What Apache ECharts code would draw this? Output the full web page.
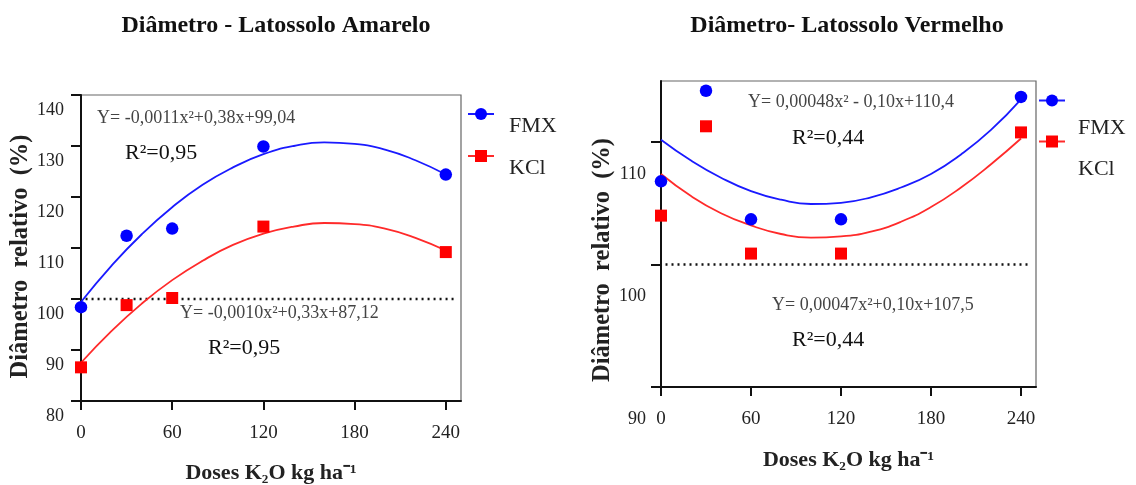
<!DOCTYPE html>
<html>
<head>
<meta charset="utf-8">
<script src="https://cdn.jsdelivr.net/npm/echarts@6/dist/echarts.min.js"></script>
<style>
html,body{margin:0;padding:0;background:#fff;}
#c{width:1136px;height:485px;}
</style>
</head>
<body>
<div id="c"></div>
<script>
// ---------- data ----------
const doses = [0, 30, 60, 120, 240];
const fmxAmarelo = [98.4, 112.4, 113.8, 129.9, 124.4];
const kclAmarelo = [86.6, 98.8, 100.2, 114.2, 109.2];
const fitX = [0, 20, 40, 60, 80, 100, 120, 140, 160, 180, 200, 220, 240];
const fmxFitAmarelo = [99.4, 106.5, 112.7, 118.0, 122.4, 125.8, 128.4, 130.0, 130.7, 130.4, 129.3, 127.2, 124.4];
const kclFitAmarelo = [87.5, 93.7, 99.1, 103.7, 107.5, 110.6, 112.8, 114.2, 114.9, 114.7, 113.8, 112.0, 109.5];
const fmxVermelho = [106.8, 114.2, 103.7, 103.7, 113.7];
const kclVermelho = [104.0, 111.3, 100.9, 100.9, 110.8];
const fmxFitVermelho = [110.2, 108.5, 107.1, 106.0, 105.3, 104.95, 105.05, 105.5, 106.3, 107.4, 109.0, 111.0, 113.5];
const kclFitVermelho = [107.4, 105.6, 104.2, 103.2, 102.5, 102.2, 102.3, 102.7, 103.5, 104.7, 106.3, 108.2, 110.3];
const refX = [3, 247];
const refY = [100, 100];

const xTicks = [0, 60, 120, 180, 240];
const yTicksAmarelo = [80, 90, 100, 110, 120, 130, 140];
const yTicksVermelho = [90, 100, 110];

const titles = ['Diâmetro - Latossolo Amarelo', 'Diâmetro- Latossolo Vermelho'];
const xName = 'Doses K₂O kg ha⁻¹';
const yName = 'Diâmetro  relativo  (%)';
const seriesNames = ['FMX', 'KCl'];
const eqAmarelo = ['Y= -0,0011x²+0,38x+99,04', 'R²=0,95', 'Y= -0,0010x²+0,33x+87,12', 'R²=0,95'];
const eqVermelho = ['Y= 0,00048x² - 0,10x+110,4', 'R²=0,44', 'Y= 0,00047x²+0,10x+107,5', 'R²=0,44'];

// ---------- helpers ----------
const FONT = '"Liberation Serif", "Times New Roman", serif';
const BLUE = '#0000ff', RED = '#ff0000';
const zip = (xs, ys) => xs.map((x, i) => [x, ys[i]]);

function xAxisFor(gi, labelMargin, nameGap) {
  return {
    type: 'value', gridIndex: gi, min: 0, max: 250, interval: 60,
    axisLine: { show: true, onZero: false, lineStyle: { color: '#111', width: 2 } },
    axisTick: { show: true, length: 9, customValues: xTicks, lineStyle: { color: '#111', width: 2 } },
    axisLabel: { customValues: xTicks, margin: labelMargin, fontSize: 19, color: '#222', fontFamily: FONT },
    splitLine: { show: false },
    name: xName, nameLocation: 'middle', nameGap: nameGap,
    nameTextStyle: { fontFamily: FONT, fontWeight: 'bold', fontSize: 22, color: '#222' }
  };
}
function yAxisFor(gi, min, max, ticks, lh, margin, nameGap, shift) {
  return {
    type: 'value', gridIndex: gi, min: min, max: max, interval: 10,
    axisLine: { show: true, onZero: false, lineStyle: { color: '#111', width: 2 } },
    axisTick: { show: true, length: 10, customValues: ticks, lineStyle: { color: '#111', width: 2 } },
    axisLabel: { customValues: ticks, verticalAlign: 'top', lineHeight: lh, margin: margin,
                 fontSize: 18, color: '#222', fontFamily: FONT },
    splitLine: { show: false },
    name: yName, nameLocation: 'middle', nameGap: nameGap,
    nameTextStyle: { fontFamily: FONT, fontWeight: 'bold', fontSize: 24.5, color: '#222', padding: [0, shift, 0, 0] }
  };
}
function seriesFor(gi, fmxPts, kclPts, fmxFit, kclFit) {
  return [
    { name: 'FMX', type: 'line', xAxisIndex: gi, yAxisIndex: gi, data: zip(fitX, fmxFit), smooth: 0.5,
      symbol: 'circle', showSymbol: false, lineStyle: { color: '#1a1aff', width: 1.8 }, itemStyle: { color: BLUE }, z: 2 },
    { name: 'KCl', type: 'line', xAxisIndex: gi, yAxisIndex: gi, data: zip(fitX, kclFit), smooth: 0.5,
      symbol: 'rect', showSymbol: false, lineStyle: { color: '#ff2a2a', width: 1.8 }, itemStyle: { color: RED }, z: 2 },
    { name: 'FMX', type: 'scatter', xAxisIndex: gi, yAxisIndex: gi, data: zip(doses, fmxPts),
      symbol: 'circle', symbolSize: 12.5, itemStyle: { color: BLUE, opacity: 1 }, z: 3 },
    { name: 'KCl', type: 'scatter', xAxisIndex: gi, yAxisIndex: gi, data: zip(doses, kclPts),
      symbol: 'rect', symbolSize: 12, itemStyle: { color: RED, opacity: 1 }, z: 3 },
    { name: 'ref', type: 'line', xAxisIndex: gi, yAxisIndex: gi, data: zip(refX, refY), symbol: 'none',
      lineStyle: { color: '#111', width: 2.5, type: [2, 4] }, z: 1 }
  ];
}
function eqText(x, y, text, big) {
  return { type: 'text', x: x, y: y, silent: true,
    style: { text: text, fontFamily: FONT, fontSize: big ? 22 : 18, fill: big ? '#111' : '#444',
             align: 'left', verticalAlign: 'middle' } };
}
function legendFor(left, top, gap, padTop, padLeft) {
  return {
    data: seriesNames, orient: 'vertical', left: left, top: top, padding: 0,
    itemWidth: 26, itemHeight: 15, itemGap: gap, selectedMode: false,
    formatter: name => '{t|' + name + '}',
    textStyle: { rich: { t: { fontFamily: FONT, fontSize: 22, color: '#222', lineHeight: 22,
                              padding: [padTop, 0, 0, padLeft] } } }
  };
}

const chart = echarts.init(document.getElementById('c'));
chart.setOption({
  animation: false,
  backgroundColor: '#fff',
  title: [
    { text: titles[0], left: 271, top: 9, textAlign: 'center',
      textStyle: { fontFamily: FONT, fontWeight: 'bold', fontSize: 24, color: '#111' } },
    { text: titles[1], left: 842, top: 9, textAlign: 'center',
      textStyle: { fontFamily: FONT, fontWeight: 'bold', fontSize: 24, color: '#111' } }
  ],
  grid: [
    { left: 81, top: 95, width: 380, height: 306, show: true, borderColor: '#666', borderWidth: 1.2,
      containLabel: false, outerBoundsMode: 'none' },
    { left: 661, top: 81, width: 375, height: 306, show: true, borderColor: '#666', borderWidth: 1.2,
      containLabel: false, outerBoundsMode: 'none' }
  ],
  xAxis: [xAxisFor(0, 23, 61), xAxisFor(1, 22.5, 62)],
  yAxis: [
    yAxisFor(0, 80, 140, yTicksAmarelo, 30, 17, 44, 17),
    yAxisFor(1, 90, 115, yTicksVermelho, 64, 15, 41, 52)
  ],
  legend: [
    legendFor(467, 90.5, -5, 25, 10),
    legendFor(1038, 62, -36, 55, 8)
  ],
  series: [].concat(
    seriesFor(0, fmxAmarelo, kclAmarelo, fmxFitAmarelo, kclFitAmarelo),
    seriesFor(1, fmxVermelho, kclVermelho, fmxFitVermelho, kclFitVermelho)
  ),
  graphic: [
    eqText(97, 118, eqAmarelo[0], false),
    eqText(125, 153, eqAmarelo[1], true),
    eqText(180, 313, eqAmarelo[2], false),
    eqText(208, 348, eqAmarelo[3], true),
    eqText(748, 102, eqVermelho[0], false),
    eqText(792, 138, eqVermelho[1], true),
    eqText(772, 305, eqVermelho[2], false),
    eqText(792, 340, eqVermelho[3], true)
  ]
});
</script>
</body>
</html>
